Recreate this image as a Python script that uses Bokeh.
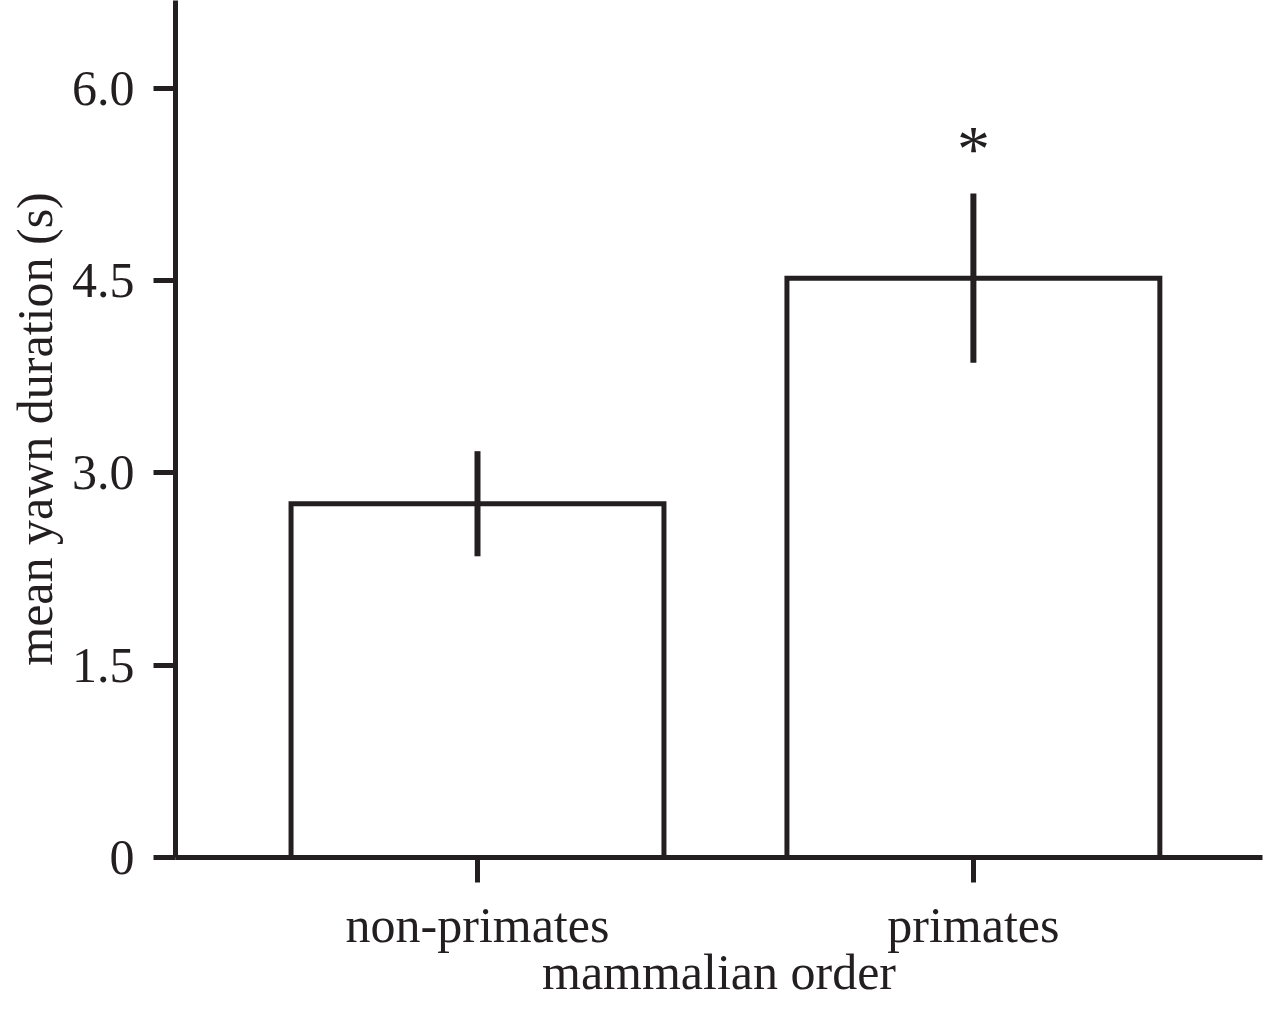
from bokeh.plotting import figure
from bokeh.models import Range1d, FixedTicker, ColumnDataSource, PrintfTickFormatter
from bokeh.core.properties import value
from bokeh.embed import file_html
from bokeh.resources import INLINE

# ---- data ----
categories = ["non-primates", "primates"]
means = [2.76, 4.52]
err_upper = [3.17, 5.18]
err_lower = [2.35, 3.86]
markers = ["", "*"]
y_ticks = [0, 1.5, 3.0, 4.5, 6.0]
y_tick_labels = ["0", "1.5", "3.0", "4.5", "6.0"]

INK = "#231f20"
FONT = "Liberation Serif"

x_pos = list(range(len(categories)))
src = ColumnDataSource(dict(x=x_pos, mean=means, hi=err_upper, lo=err_lower, mk=markers))

p = figure(width=1264, height=1004, output_backend="svg", toolbar_location=None,
           x_range=Range1d(-0.609, 1.583), y_range=Range1d(0, 6.686),
           min_border_left=175, min_border_right=2, min_border_top=0, min_border_bottom=147)
p.outline_line_color = None
p.grid.visible = False
p.background_fill_color = "white"
p.border_fill_color = "white"

p.vbar(x="x", top="mean", bottom=0, width=0.752, source=src,
       fill_color="white", line_color=INK, line_width=5, line_join="miter")
p.segment(x0="x", y0="lo", x1="x", y1="hi", source=src, line_color=INK, line_width=6)
p.text(x="x", y="hi", text="mk", source=src, text_font=value(FONT), text_font_size="66px",
       text_align="center", text_baseline="alphabetic", y_offset=-45, text_color=INK)

def key(t):
    return int(t) if float(t).is_integer() else t

for ax in (p.xaxis[0], p.yaxis[0]):
    ax.axis_line_color = INK
    ax.axis_line_width = 5
    ax.major_tick_line_color = INK
    ax.major_tick_line_width = 5
    ax.major_tick_in = 0
    ax.minor_tick_line_color = None
    ax.major_label_text_font = FONT
    ax.major_label_text_font_size = "50px"
    ax.major_label_text_color = INK
    ax.major_label_text_line_height = 1.0
    ax.axis_label_text_font = FONT
    ax.axis_label_text_font_size = "50px"
    ax.axis_label_text_font_style = "normal"
    ax.axis_label_text_color = INK
    ax.axis_label_text_line_height = 1.0

xa = p.xaxis[0]
xa.ticker = FixedTicker(ticks=x_pos)
xa.major_label_overrides = {key(i): c for i, c in zip(x_pos, categories)}
xa.major_tick_out = 25
xa.major_label_standoff = 14
xa.axis_label = "mammalian order"
xa.axis_label_standoff = -12

ya = p.yaxis[0]
ya.ticker = FixedTicker(ticks=y_ticks)
ya.formatter = PrintfTickFormatter(format="%.1f")
ya.major_label_overrides = {key(t): l for t, l in zip(y_ticks, y_tick_labels)}
ya.major_tick_out = 22
ya.major_label_standoff = 19
ya.axis_label = "mean yawn duration (s)"
ya.axis_label_standoff = 6

open("out.html", "w").write(file_html(p, INLINE))
